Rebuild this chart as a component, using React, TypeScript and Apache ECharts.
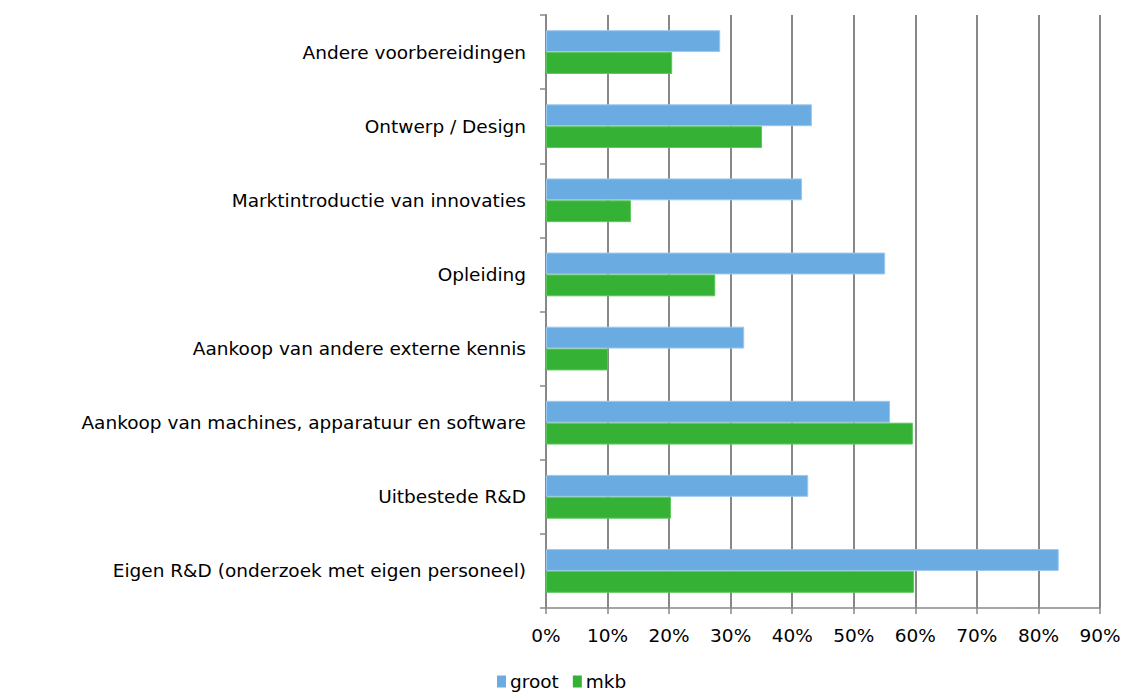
import React, { useEffect, useRef } from "react";
import * as echarts from "echarts";

const categories = [
  "Eigen R&D (onderzoek met eigen personeel)",
  "Uitbestede R&D",
  "Aankoop van machines, apparatuur en software",
  "Aankoop van andere externe kennis",
  "Opleiding",
  "Marktintroductie van innovaties",
  "Ontwerp / Design",
  "Andere voorbereidingen",
];
const groot = [83.3, 42.6, 55.9, 32.2, 55.1, 41.6, 43.2, 28.3];
const mkb = [59.8, 20.3, 59.6, 10.1, 27.5, 13.8, 35.1, 20.5];
const xTicks = [0, 10, 20, 30, 40, 50, 60, 70, 80, 90];

const FONT = "DejaVu Sans";

export default function App() {
  const ref = useRef<HTMLDivElement>(null);
  useEffect(() => {
    if (!ref.current) return;
    const chart = echarts.init(ref.current, undefined, { renderer: "svg" });
    chart.setOption({
      animation: false,
      textStyle: { fontFamily: FONT },
      grid: { left: 546, right: 28, top: 15, bottom: 90, containLabel: false },
      legend: {
        top: 672,
        left: 497,
        padding: 0,
        data: ["groot", "mkb"],
        icon: "rect",
        itemWidth: 9,
        itemHeight: 12,
        itemGap: 14,
        itemStyle: { borderWidth: 0 },
        textStyle: { fontFamily: FONT, fontSize: 18.5, color: "#000", padding: [0, 0, 0, -1] },
      },
      xAxis: {
        type: "value",
        min: 0,
        max: xTicks[xTicks.length - 1],
        interval: 10,
        axisLine: { show: true, lineStyle: { color: "#888", width: 1.5 } },
        axisTick: { show: true, length: 6, lineStyle: { color: "#888", width: 1.5 } },
        axisLabel: {
          formatter: (v: number) => v + "%",
          fontFamily: FONT,
          fontSize: 18.5,
          color: "#000",
          margin: 18,
        },
        splitLine: { show: true, lineStyle: { color: "#888", width: 2 } },
      },
      yAxis: {
        type: "category",
        data: categories,
        axisLine: { show: true, lineStyle: { color: "#888", width: 2 } },
        axisTick: { show: true, length: 6, lineStyle: { color: "#888", width: 1.5 } },
        axisLabel: { fontFamily: FONT, fontSize: 18.5, color: "#000", margin: 20 },
        splitLine: { show: false },
      },
      series: [
        {
          name: "groot",
          type: "bar",
          data: groot,
          itemStyle: { color: "#6aace2", borderColor: "#9cc8ee", borderWidth: 1 },
          barGap: "0%",
          barCategoryGap: "41%",
        },
        {
          name: "mkb",
          type: "bar",
          data: mkb,
          itemStyle: { color: "#35b236", borderColor: "#5cc75c", borderWidth: 1 },
          barGap: "0%",
          barCategoryGap: "41%",
        },
      ],
    });
    return () => chart.dispose();
  }, []);
  return <div ref={ref} style={{ width: 1128, height: 698, position: "absolute", left: 0, top: 0 }} />;
}
